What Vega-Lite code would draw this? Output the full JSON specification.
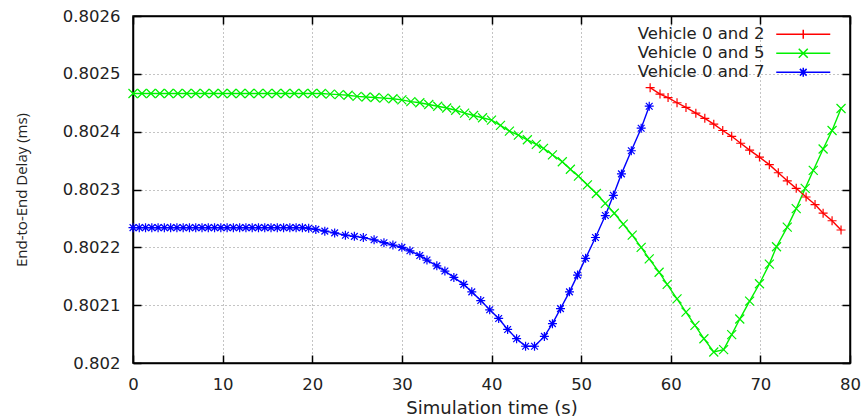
{
  "$schema": "https://vega.github.io/schema/vega-lite/v6.json",
  "width": 717,
  "height": 347,
  "autosize": {"type": "none"},
  "padding": {"left": 133, "top": 16, "right": 16, "bottom": 57},
  "background": "white",
  "config": {
    "view": {"stroke": "black", "strokeWidth": 1.5},
    "font": "DejaVu Sans",
    "axis": {
      "labelFont": "DejaVu Sans",
      "labelFontSize": 16.5,
      "labelColor": "#222",
      "labelFlush": false,
      "titleFont": "DejaVu Sans",
      "titleFontWeight": "normal",
      "titleColor": "#222",
      "domainColor": "black",
      "domainWidth": 1.5,
      "tickColor": "black",
      "tickWidth": 1.5,
      "tickSize": -8,
      "gridColor": "#888",
      "gridDash": [1, 3],
      "gridWidth": 1
    },
    "legend": {
      "orient": "none",
      "legendX": 662,
      "legendY": 10,
      "padding": 0,
      "labelFont": "DejaVu Sans",
      "labelFontSize": 16.5,
      "labelColor": "#222",
      "labelAlign": "right",
      "labelOffset": -47,
      "symbolSize": 81,
      "symbolStrokeWidth": 1.5,
      "rowPadding": 2,
      "labelLimit": 300
    }
  },
  "data": {
    "values": [
      {"s": "Vehicle 0 and 5", "t": 0, "d": 0.802466},
      {"s": "Vehicle 0 and 5", "t": 1, "d": 0.802466},
      {"s": "Vehicle 0 and 5", "t": 2, "d": 0.802466},
      {"s": "Vehicle 0 and 5", "t": 3, "d": 0.802466},
      {"s": "Vehicle 0 and 5", "t": 4, "d": 0.802466},
      {"s": "Vehicle 0 and 5", "t": 5, "d": 0.802466},
      {"s": "Vehicle 0 and 5", "t": 6, "d": 0.802466},
      {"s": "Vehicle 0 and 5", "t": 7, "d": 0.802466},
      {"s": "Vehicle 0 and 5", "t": 8, "d": 0.802466},
      {"s": "Vehicle 0 and 5", "t": 9, "d": 0.802466},
      {"s": "Vehicle 0 and 5", "t": 10, "d": 0.802466},
      {"s": "Vehicle 0 and 5", "t": 11, "d": 0.802466},
      {"s": "Vehicle 0 and 5", "t": 12, "d": 0.802466},
      {"s": "Vehicle 0 and 5", "t": 13, "d": 0.802466},
      {"s": "Vehicle 0 and 5", "t": 14, "d": 0.802466},
      {"s": "Vehicle 0 and 5", "t": 15, "d": 0.802466},
      {"s": "Vehicle 0 and 5", "t": 16, "d": 0.802466},
      {"s": "Vehicle 0 and 5", "t": 17, "d": 0.802466},
      {"s": "Vehicle 0 and 5", "t": 18, "d": 0.802466},
      {"s": "Vehicle 0 and 5", "t": 19, "d": 0.802466},
      {"s": "Vehicle 0 and 5", "t": 20, "d": 0.802466},
      {"s": "Vehicle 0 and 5", "t": 21, "d": 0.802466},
      {"s": "Vehicle 0 and 5", "t": 22, "d": 0.802465},
      {"s": "Vehicle 0 and 5", "t": 23, "d": 0.802464},
      {"s": "Vehicle 0 and 5", "t": 24, "d": 0.802463},
      {"s": "Vehicle 0 and 5", "t": 25, "d": 0.802461},
      {"s": "Vehicle 0 and 5", "t": 26, "d": 0.80246},
      {"s": "Vehicle 0 and 5", "t": 27, "d": 0.802459},
      {"s": "Vehicle 0 and 5", "t": 28, "d": 0.802458},
      {"s": "Vehicle 0 and 5", "t": 29, "d": 0.802457},
      {"s": "Vehicle 0 and 5", "t": 30, "d": 0.802455},
      {"s": "Vehicle 0 and 5", "t": 31, "d": 0.802452},
      {"s": "Vehicle 0 and 5", "t": 32, "d": 0.80245},
      {"s": "Vehicle 0 and 5", "t": 33, "d": 0.802447},
      {"s": "Vehicle 0 and 5", "t": 34, "d": 0.802444},
      {"s": "Vehicle 0 and 5", "t": 35, "d": 0.802441},
      {"s": "Vehicle 0 and 5", "t": 36, "d": 0.802437},
      {"s": "Vehicle 0 and 5", "t": 37, "d": 0.802432},
      {"s": "Vehicle 0 and 5", "t": 38, "d": 0.802428},
      {"s": "Vehicle 0 and 5", "t": 39, "d": 0.802424},
      {"s": "Vehicle 0 and 5", "t": 40, "d": 0.80242},
      {"s": "Vehicle 0 and 5", "t": 41, "d": 0.802411},
      {"s": "Vehicle 0 and 5", "t": 42, "d": 0.802401},
      {"s": "Vehicle 0 and 5", "t": 43, "d": 0.802394},
      {"s": "Vehicle 0 and 5", "t": 44, "d": 0.802386},
      {"s": "Vehicle 0 and 5", "t": 45, "d": 0.802378},
      {"s": "Vehicle 0 and 5", "t": 45.8, "d": 0.802371},
      {"s": "Vehicle 0 and 5", "t": 46.8, "d": 0.80236},
      {"s": "Vehicle 0 and 5", "t": 47.9, "d": 0.802348},
      {"s": "Vehicle 0 and 5", "t": 48.8, "d": 0.802335},
      {"s": "Vehicle 0 and 5", "t": 49.7, "d": 0.802323},
      {"s": "Vehicle 0 and 5", "t": 50.7, "d": 0.802308},
      {"s": "Vehicle 0 and 5", "t": 51.7, "d": 0.802293},
      {"s": "Vehicle 0 and 5", "t": 52.7, "d": 0.802276},
      {"s": "Vehicle 0 and 5", "t": 53.7, "d": 0.802259},
      {"s": "Vehicle 0 and 5", "t": 54.7, "d": 0.80224},
      {"s": "Vehicle 0 and 5", "t": 55.7, "d": 0.802221},
      {"s": "Vehicle 0 and 5", "t": 56.7, "d": 0.8022},
      {"s": "Vehicle 0 and 5", "t": 57.6, "d": 0.80218},
      {"s": "Vehicle 0 and 5", "t": 58.7, "d": 0.802157},
      {"s": "Vehicle 0 and 5", "t": 59.6, "d": 0.802136},
      {"s": "Vehicle 0 and 5", "t": 60.7, "d": 0.802111},
      {"s": "Vehicle 0 and 5", "t": 61.7, "d": 0.802088},
      {"s": "Vehicle 0 and 5", "t": 62.7, "d": 0.802065},
      {"s": "Vehicle 0 and 5", "t": 63.7, "d": 0.802042},
      {"s": "Vehicle 0 and 5", "t": 64.8, "d": 0.802019},
      {"s": "Vehicle 0 and 5", "t": 65.9, "d": 0.802023},
      {"s": "Vehicle 0 and 5", "t": 66.8, "d": 0.802049},
      {"s": "Vehicle 0 and 5", "t": 67.7, "d": 0.802076},
      {"s": "Vehicle 0 and 5", "t": 68.8, "d": 0.802107},
      {"s": "Vehicle 0 and 5", "t": 69.9, "d": 0.802137},
      {"s": "Vehicle 0 and 5", "t": 71.0, "d": 0.802171},
      {"s": "Vehicle 0 and 5", "t": 71.8, "d": 0.802201},
      {"s": "Vehicle 0 and 5", "t": 73.0, "d": 0.802235},
      {"s": "Vehicle 0 and 5", "t": 74.0, "d": 0.802267},
      {"s": "Vehicle 0 and 5", "t": 75.0, "d": 0.802302},
      {"s": "Vehicle 0 and 5", "t": 75.9, "d": 0.802333},
      {"s": "Vehicle 0 and 5", "t": 77.0, "d": 0.80237},
      {"s": "Vehicle 0 and 5", "t": 78.0, "d": 0.802402},
      {"s": "Vehicle 0 and 5", "t": 79.0, "d": 0.80244},

      {"s": "Vehicle 0 and 7", "t": 0, "d": 0.802234},
      {"s": "Vehicle 0 and 7", "t": 0.7, "d": 0.802234},
      {"s": "Vehicle 0 and 7", "t": 1.4, "d": 0.802234},
      {"s": "Vehicle 0 and 7", "t": 2.1, "d": 0.802234},
      {"s": "Vehicle 0 and 7", "t": 2.8, "d": 0.802234},
      {"s": "Vehicle 0 and 7", "t": 3.5, "d": 0.802234},
      {"s": "Vehicle 0 and 7", "t": 4.2, "d": 0.802234},
      {"s": "Vehicle 0 and 7", "t": 4.9, "d": 0.802234},
      {"s": "Vehicle 0 and 7", "t": 5.6, "d": 0.802234},
      {"s": "Vehicle 0 and 7", "t": 6.3, "d": 0.802234},
      {"s": "Vehicle 0 and 7", "t": 7.0, "d": 0.802234},
      {"s": "Vehicle 0 and 7", "t": 7.7, "d": 0.802234},
      {"s": "Vehicle 0 and 7", "t": 8.4, "d": 0.802234},
      {"s": "Vehicle 0 and 7", "t": 9.1, "d": 0.802234},
      {"s": "Vehicle 0 and 7", "t": 9.8, "d": 0.802234},
      {"s": "Vehicle 0 and 7", "t": 10.5, "d": 0.802234},
      {"s": "Vehicle 0 and 7", "t": 11.2, "d": 0.802234},
      {"s": "Vehicle 0 and 7", "t": 11.9, "d": 0.802234},
      {"s": "Vehicle 0 and 7", "t": 12.6, "d": 0.802234},
      {"s": "Vehicle 0 and 7", "t": 13.3, "d": 0.802234},
      {"s": "Vehicle 0 and 7", "t": 14.0, "d": 0.802234},
      {"s": "Vehicle 0 and 7", "t": 14.7, "d": 0.802234},
      {"s": "Vehicle 0 and 7", "t": 15.4, "d": 0.802234},
      {"s": "Vehicle 0 and 7", "t": 16.1, "d": 0.802234},
      {"s": "Vehicle 0 and 7", "t": 16.8, "d": 0.802234},
      {"s": "Vehicle 0 and 7", "t": 17.5, "d": 0.802234},
      {"s": "Vehicle 0 and 7", "t": 18.2, "d": 0.802234},
      {"s": "Vehicle 0 and 7", "t": 18.9, "d": 0.802234},
      {"s": "Vehicle 0 and 7", "t": 19.6, "d": 0.802233},
      {"s": "Vehicle 0 and 7", "t": 20.4, "d": 0.802231},
      {"s": "Vehicle 0 and 7", "t": 21.4, "d": 0.802228},
      {"s": "Vehicle 0 and 7", "t": 22.5, "d": 0.802225},
      {"s": "Vehicle 0 and 7", "t": 23.7, "d": 0.802221},
      {"s": "Vehicle 0 and 7", "t": 24.7, "d": 0.802219},
      {"s": "Vehicle 0 and 7", "t": 25.7, "d": 0.802217},
      {"s": "Vehicle 0 and 7", "t": 26.9, "d": 0.802213},
      {"s": "Vehicle 0 and 7", "t": 28.0, "d": 0.802208},
      {"s": "Vehicle 0 and 7", "t": 29.0, "d": 0.802204},
      {"s": "Vehicle 0 and 7", "t": 30.0, "d": 0.8022},
      {"s": "Vehicle 0 and 7", "t": 30.9, "d": 0.802194},
      {"s": "Vehicle 0 and 7", "t": 32.0, "d": 0.802186},
      {"s": "Vehicle 0 and 7", "t": 32.8, "d": 0.802178},
      {"s": "Vehicle 0 and 7", "t": 33.9, "d": 0.802168},
      {"s": "Vehicle 0 and 7", "t": 34.8, "d": 0.802159},
      {"s": "Vehicle 0 and 7", "t": 35.8, "d": 0.802148},
      {"s": "Vehicle 0 and 7", "t": 36.9, "d": 0.802136},
      {"s": "Vehicle 0 and 7", "t": 37.8, "d": 0.802123},
      {"s": "Vehicle 0 and 7", "t": 38.8, "d": 0.802108},
      {"s": "Vehicle 0 and 7", "t": 39.8, "d": 0.802092},
      {"s": "Vehicle 0 and 7", "t": 40.8, "d": 0.802077},
      {"s": "Vehicle 0 and 7", "t": 41.8, "d": 0.802058},
      {"s": "Vehicle 0 and 7", "t": 42.8, "d": 0.802042},
      {"s": "Vehicle 0 and 7", "t": 43.8, "d": 0.802029},
      {"s": "Vehicle 0 and 7", "t": 44.8, "d": 0.802029},
      {"s": "Vehicle 0 and 7", "t": 45.9, "d": 0.802046},
      {"s": "Vehicle 0 and 7", "t": 46.8, "d": 0.802068},
      {"s": "Vehicle 0 and 7", "t": 47.7, "d": 0.802094},
      {"s": "Vehicle 0 and 7", "t": 48.7, "d": 0.802123},
      {"s": "Vehicle 0 and 7", "t": 49.6, "d": 0.802152},
      {"s": "Vehicle 0 and 7", "t": 50.5, "d": 0.802181},
      {"s": "Vehicle 0 and 7", "t": 51.6, "d": 0.802217},
      {"s": "Vehicle 0 and 7", "t": 52.7, "d": 0.802255},
      {"s": "Vehicle 0 and 7", "t": 53.6, "d": 0.80229},
      {"s": "Vehicle 0 and 7", "t": 54.5, "d": 0.802327},
      {"s": "Vehicle 0 and 7", "t": 55.6, "d": 0.802367},
      {"s": "Vehicle 0 and 7", "t": 56.7, "d": 0.802406},
      {"s": "Vehicle 0 and 7", "t": 57.6, "d": 0.802444},

      {"s": "Vehicle 0 and 2", "t": 57.7, "d": 0.802476},
      {"s": "Vehicle 0 and 2", "t": 58.8, "d": 0.802465},
      {"s": "Vehicle 0 and 2", "t": 59.7, "d": 0.802459},
      {"s": "Vehicle 0 and 2", "t": 60.7, "d": 0.80245},
      {"s": "Vehicle 0 and 2", "t": 61.7, "d": 0.802442},
      {"s": "Vehicle 0 and 2", "t": 62.8, "d": 0.802432},
      {"s": "Vehicle 0 and 2", "t": 63.8, "d": 0.802423},
      {"s": "Vehicle 0 and 2", "t": 64.8, "d": 0.802413},
      {"s": "Vehicle 0 and 2", "t": 65.8, "d": 0.802402},
      {"s": "Vehicle 0 and 2", "t": 66.8, "d": 0.802392},
      {"s": "Vehicle 0 and 2", "t": 67.8, "d": 0.80238},
      {"s": "Vehicle 0 and 2", "t": 68.8, "d": 0.802368},
      {"s": "Vehicle 0 and 2", "t": 69.9, "d": 0.802356},
      {"s": "Vehicle 0 and 2", "t": 71.0, "d": 0.802343},
      {"s": "Vehicle 0 and 2", "t": 72.0, "d": 0.802329},
      {"s": "Vehicle 0 and 2", "t": 73.0, "d": 0.802315},
      {"s": "Vehicle 0 and 2", "t": 74.0, "d": 0.802302},
      {"s": "Vehicle 0 and 2", "t": 75.1, "d": 0.802287},
      {"s": "Vehicle 0 and 2", "t": 76.1, "d": 0.802274},
      {"s": "Vehicle 0 and 2", "t": 77.0, "d": 0.802259},
      {"s": "Vehicle 0 and 2", "t": 78.0, "d": 0.802246},
      {"s": "Vehicle 0 and 2", "t": 79.0, "d": 0.80223}
    ]
  },
  "layer": [
    {
      "mark": {"type": "line", "strokeWidth": 1.4, "interpolate": "linear"},
      "encoding": {
        "x": {"field": "t", "type": "quantitative",
              "scale": {"domain": [0, 80], "nice": false, "zero": false},
              "axis": {"orient": "bottom", "values": [0, 10, 20, 30, 40, 50, 60, 70, 80],
                       "title": "Simulation time (s)", "titleFontSize": 18, "titlePadding": 7,
                       "labelPadding": 21, "grid": true}},
        "y": {"field": "d", "type": "quantitative",
              "scale": {"domain": [0.802, 0.8026], "nice": false, "zero": false},
              "axis": {"orient": "left",
                       "values": [0.802, 0.8021, 0.8022, 0.8023, 0.8024, 0.8025, 0.8026],
                       "format": ".4~f", "title": "End-to-End Delay (ms)", "titleFont": "Open Sans", "titleFontSize": 15,
                       "titlePadding": 33, "labelPadding": 21, "grid": true}},
        "color": {"field": "s", "type": "nominal", "title": null,
                  "scale": {"domain": ["Vehicle 0 and 2", "Vehicle 0 and 5", "Vehicle 0 and 7"],
                            "range": ["#ff0000", "#00f000", "#0000ff"]},
                  "legend": {"encode": {"symbols": {"update": {
                    "stroke": {"scale": "color", "field": "value"},
                    "fill": {"value": "transparent"},
                    "shape": {"signal": "datum.value === 'Vehicle 0 and 2' ? 'M-6,0H6M0,-1V1' : datum.value === 'Vehicle 0 and 5' ? 'M-6,0H6M-1,-1L1,1M-1,1L1,-1' : 'M-6,0H6M0,-1V1M-0.75,-0.75L0.75,0.75M-0.75,0.75L0.75,-0.75'"}}}}}}
      }
    },
    {
      "transform": [{"filter": "datum.s === 'Vehicle 0 and 2'"}],
      "mark": {"type": "point", "filled": false, "strokeWidth": 1.2, "size": 81, "opacity": 1, "shape": "M-1,0H1M0,-1V1"},
      "encoding": {
        "x": {"field": "t", "type": "quantitative",
              "axis": {"orient": "top", "values": [0, 10, 20, 30, 40, 50, 60, 70, 80],
                       "labels": false, "title": null, "grid": false}},
        "y": {"field": "d", "type": "quantitative",
              "axis": {"orient": "right",
                       "values": [0.802, 0.8021, 0.8022, 0.8023, 0.8024, 0.8025, 0.8026],
                       "labels": false, "title": null, "grid": false}},
        "color": {"field": "s", "type": "nominal", "title": null,
                  "legend": {"encode": {"symbols": {"update": {
                    "stroke": {"scale": "color", "field": "value"},
                    "fill": {"value": "transparent"},
                    "shape": {"signal": "datum.value === 'Vehicle 0 and 2' ? 'M-6,0H6M0,-1V1' : datum.value === 'Vehicle 0 and 5' ? 'M-6,0H6M-1,-1L1,1M-1,1L1,-1' : 'M-6,0H6M0,-1V1M-0.75,-0.75L0.75,0.75M-0.75,0.75L0.75,-0.75'"}}}}}}
      }
    },
    {
      "transform": [{"filter": "datum.s === 'Vehicle 0 and 5'"}],
      "mark": {"type": "point", "filled": false, "strokeWidth": 1.2, "size": 81, "opacity": 1, "shape": "M-1,-1L1,1M-1,1L1,-1"},
      "encoding": {
        "x": {"field": "t", "type": "quantitative", "axis": null},
        "y": {"field": "d", "type": "quantitative", "axis": null},
        "color": {"field": "s", "type": "nominal", "title": null,
                  "legend": {"encode": {"symbols": {"update": {
                    "stroke": {"scale": "color", "field": "value"},
                    "fill": {"value": "transparent"},
                    "shape": {"signal": "datum.value === 'Vehicle 0 and 2' ? 'M-6,0H6M0,-1V1' : datum.value === 'Vehicle 0 and 5' ? 'M-6,0H6M-1,-1L1,1M-1,1L1,-1' : 'M-6,0H6M0,-1V1M-0.75,-0.75L0.75,0.75M-0.75,0.75L0.75,-0.75'"}}}}}}
      }
    },
    {
      "transform": [{"filter": "datum.s === 'Vehicle 0 and 7'"}],
      "mark": {"type": "point", "filled": false, "strokeWidth": 1.2, "size": 81, "opacity": 1, "shape": "M-1,0H1M0,-1V1M-0.75,-0.75L0.75,0.75M-0.75,0.75L0.75,-0.75"},
      "encoding": {
        "x": {"field": "t", "type": "quantitative", "axis": null},
        "y": {"field": "d", "type": "quantitative", "axis": null},
        "color": {"field": "s", "type": "nominal", "title": null,
                  "legend": {"encode": {"symbols": {"update": {
                    "stroke": {"scale": "color", "field": "value"},
                    "fill": {"value": "transparent"},
                    "shape": {"signal": "datum.value === 'Vehicle 0 and 2' ? 'M-6,0H6M0,-1V1' : datum.value === 'Vehicle 0 and 5' ? 'M-6,0H6M-1,-1L1,1M-1,1L1,-1' : 'M-6,0H6M0,-1V1M-0.75,-0.75L0.75,0.75M-0.75,0.75L0.75,-0.75'"}}}}}}
      }
    }
  ],
  "resolve": {"axis": {"x": "independent", "y": "independent"}}
}
